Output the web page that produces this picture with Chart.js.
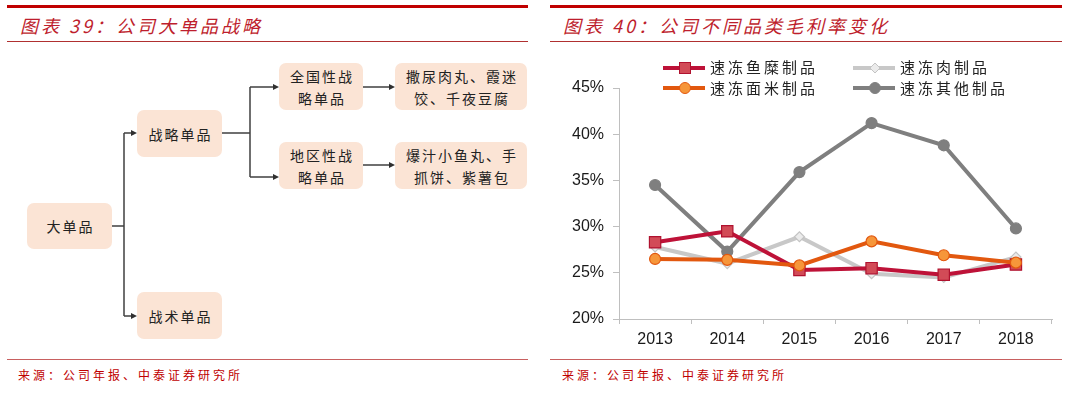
<!DOCTYPE html>
<html>
<head>
<meta charset="utf-8">
<script src="https://cdn.jsdelivr.net/npm/chart.js@4.4.1/dist/chart.umd.min.js"></script>
<style>
  html,body{margin:0;padding:0;background:#fff;}
  body{width:1080px;height:393px;overflow:hidden;position:relative;font-family:"Noto Sans CJK SC","Noto Sans",sans-serif;}
  .rule{position:absolute;}
  .thick{height:3px;background:#C00000;top:5px;}
  .thin{height:1px;background:#B03030;top:41px;}
  .bottom{height:1px;background:#C86060;top:359px;}
  .title{position:absolute;top:11px;font-size:18px;line-height:28px;color:#BE1E2D;font-style:italic;letter-spacing:3px;white-space:nowrap;}
  .src{position:absolute;top:366px;font-size:12px;line-height:18px;color:#C00000;letter-spacing:3px;white-space:nowrap;}
  .box{position:absolute;background:#FBE4D5;border-radius:7px;display:flex;align-items:center;justify-content:center;text-align:center;font-size:14px;line-height:22px;letter-spacing:2px;padding-left:2px;box-sizing:border-box;color:#222;}
  .leg{position:absolute;font-size:15px;line-height:20px;letter-spacing:3px;color:#222;white-space:nowrap;}
  #chartWrap{position:absolute;left:553px;top:50px;width:510px;height:310px;}
</style>
</head>
<body>
<!-- rules -->
<div class="rule thick" style="left:7px;width:521px;"></div>
<div class="rule thin" style="left:7px;width:521px;"></div>
<div class="rule bottom" style="left:7px;width:521px;"></div>
<div class="rule thick" style="left:550px;width:512px;"></div>
<div class="rule thin" style="left:550px;width:512px;"></div>
<div class="rule bottom" style="left:550px;width:512px;"></div>

<div class="title" style="left:20px;">图表 39：公司大单品战略</div>
<div class="title" style="left:563px;">图表 40：公司不同品类毛利率变化</div>
<div class="src" style="left:18px;">来源：公司年报、中泰证券研究所</div>
<div class="src" style="left:562px;">来源：公司年报、中泰证券研究所</div>

<!-- left diagram -->
<svg style="position:absolute;left:0;top:0;" width="540" height="393">
  <g stroke="#404040" stroke-width="1.5" fill="none">
    <path d="M112,226 H124 M124,133 V316 M124,133 H132 M124,316 H132"/>
    <path d="M222,133 H250 M250,87 V177 M250,87 H274 M250,177 H274"/>
    <path d="M363,87 H390 M363,165 H390"/>
  </g>
  <g fill="#303030">
    <polygon points="137,133 131,130 131,136"/>
    <polygon points="137,316 131,313 131,319"/>
    <polygon points="279,87 273,84 273,90"/>
    <polygon points="279,177 273,174 273,180"/>
    <polygon points="395,87 389,84 389,90"/>
    <polygon points="395,165 389,162 389,168"/>
  </g>
</svg>
<div class="box" style="left:27px;top:203px;width:85px;height:46px;">大单品</div>
<div class="box" style="left:137px;top:110px;width:85px;height:47px;">战略单品</div>
<div class="box" style="left:137px;top:292px;width:85px;height:47px;">战术单品</div>
<div class="box" style="left:279px;top:63px;width:84px;height:47px;">全国性战<br>略单品</div>
<div class="box" style="left:395px;top:63px;width:132px;height:47px;">撒尿肉丸、霞迷<br>饺、千夜豆腐</div>
<div class="box" style="left:279px;top:142px;width:84px;height:47px;">地区性战<br>略单品</div>
<div class="box" style="left:395px;top:142px;width:132px;height:47px;">爆汁小鱼丸、手<br>抓饼、紫薯包</div>

<!-- chart -->
<div id="chartWrap"><canvas id="c" width="510" height="310"></canvas></div>
<div id="legend"></div>

<script>
const categories = ['2013','2014','2015','2016','2017','2018'];
const seriesNames = ['速冻鱼糜制品','速冻肉制品','速冻面米制品','速冻其他制品'];
const surimi    = [28.3, 29.5, 25.3, 25.5, 24.8, 25.9];
const meat      = [27.8, 26.0, 28.9, 24.9, 24.5, 26.7];
const flourRice = [26.5, 26.4, 25.8, 28.4, 26.9, 26.1];
const other     = [34.5, 27.3, 35.9, 41.2, 38.8, 29.8];
const yTicks    = [20, 25, 30, 35, 40, 45];

const styles = [
  {line:'#BE1238', fill:'#D24B57', border:'#B0122F', shape:'rect', r:8},
  {line:'#C8C8C8', fill:'#EBEBEB', border:'#C4C4C4', shape:'rectRot', r:5},
  {line:'#E2580F', fill:'#F6963A', border:'#E2580F', shape:'circle', r:5.5},
  {line:'#7F7F7F', fill:'#7F7F7F', border:'#7F7F7F', shape:'circle', r:5.5}
];
const values = [surimi, meat, flourRice, other];
// draw order: first dataset on top
const drawOrder = [2, 0, 3, 1];

const datasets = drawOrder.map(i => ({
  label: seriesNames[i],
  data: values[i],
  borderColor: styles[i].line,
  backgroundColor: styles[i].fill,
  borderWidth: 4,
  tension: 0,
  pointStyle: styles[i].shape,
  pointRadius: styles[i].r,
  pointBackgroundColor: styles[i].fill,
  pointBorderColor: styles[i].border,
  pointBorderWidth: 1.2,
  fill: false
}));

new Chart(document.getElementById('c'), {
  type: 'line',
  data: { labels: categories, datasets },
  options: {
    responsive: false,
    animation: false,
    devicePixelRatio: 1,
    layout: { padding: { top: 38, right: 11, left: 0, bottom: 0 } },
    plugins: { legend: { display: false }, tooltip: { enabled: false } },
    scales: {
      x: {
        offset: true,
        grid: { offset: true, drawOnChartArea: false, drawTicks: true, tickLength: 5, color: '#BFBFBF' },
        border: { color: '#BFBFBF', width: 1 },
        ticks: { color: '#1A1A1A', font: { family: 'Liberation Sans', size: 16 }, padding: 6, maxRotation: 0 },
        afterFit(s) { s.height = 41; }
      },
      y: {
        min: yTicks[0], max: yTicks[yTicks.length - 1],
        afterBuildTicks(s) { s.ticks = yTicks.map(v => ({ value: v })); },
        grid: { drawOnChartArea: false, drawTicks: true, tickLength: 6, color: '#BFBFBF' },
        border: { color: '#BFBFBF', width: 1 },
        ticks: { color: '#1A1A1A', font: { family: 'Liberation Sans', size: 16 }, padding: 9, callback: v => v + '%' },
        afterFit(s) { s.width = 66; }
      }
    }
  }
});

// custom legend (2 x 2)
const legPos = [
  {x: 663, y: 67.5}, {x: 853, y: 67.5},
  {x: 663, y: 88},   {x: 853, y: 88}
];
const legend = document.getElementById('legend');
legPos.forEach((p, i) => {
  const st = styles[i];
  const svg = document.createElementNS('http://www.w3.org/2000/svg', 'svg');
  svg.setAttribute('width', 44); svg.setAttribute('height', 16);
  svg.style.position = 'absolute';
  svg.style.left = p.x + 'px';
  svg.style.top = (p.y - 8) + 'px';
  let marker = '';
  if (st.shape === 'rect') marker = `<rect x="16.5" y="2.5" width="11" height="11" fill="${st.fill}" stroke="${st.border}" stroke-width="1"/>`;
  else if (st.shape === 'rectRot') marker = `<polygon points="22,3 27,8 22,13 17,8" fill="${st.fill}" stroke="${st.border}" stroke-width="1"/>`;
  else marker = `<circle cx="22" cy="8" r="5.5" fill="${st.fill}" stroke="${st.border}" stroke-width="1"/>`;
  svg.innerHTML = `<line x1="0" y1="8" x2="42" y2="8" stroke="${st.line}" stroke-width="4"/>` + marker;
  legend.appendChild(svg);
  const t = document.createElement('div');
  t.className = 'leg';
  t.style.left = (p.x + 47) + 'px';
  t.style.top = (p.y - 10.5) + 'px';
  t.textContent = seriesNames[i];
  legend.appendChild(t);
});
</script>
</body>
</html>
